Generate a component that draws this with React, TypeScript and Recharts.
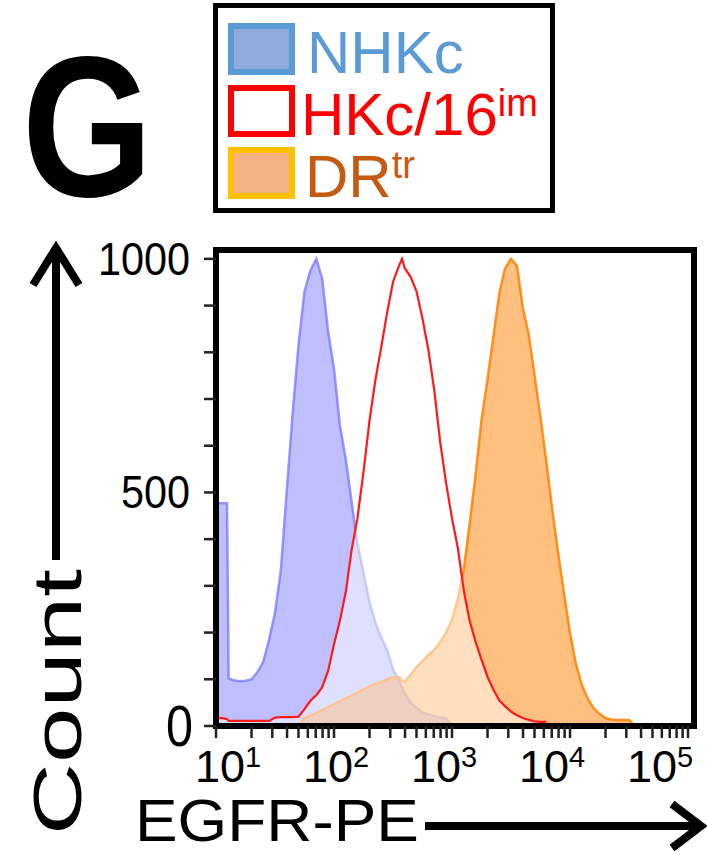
import { ComposedChart, Area, XAxis, YAxis, ReferenceArea } from 'recharts';

// EGFR-PE channel (log scale) and histogram counts
const egfrPe = [
  10, 11.2, 12.4, 12.8, 14.1, 15.8, 17.8, 20, 22.4, 25.1, 28.2, 31.6, 35.5, 39.8, 44.7, 50.1,
  56.2, 63.1, 70.8, 79.4, 89.1, 100, 112, 126, 141, 158, 178, 200, 224, 251, 282, 316,
  355, 377, 398, 447, 501, 562, 631, 708, 794, 891, 1000, 1122, 1259, 1413, 1585, 1778,
  1995, 2239, 2512, 2818, 3162, 3548, 3981, 4467, 5012, 5623, 6310, 7079, 7943, 8913, 10000, 11220,
  12589, 14125, 15849, 17783, 19953, 22387, 25119, 28184, 31623, 35481,
];

const nhkc = [
  477, 477, 477, 102, 98, 96, 97, 100, 115, 137, 185, 242, 335, 505, 672, 818,
  930, 975, 1000, 958, 845, 765, 645, 570, 480, 390, 327, 264, 222, 190, 163, 122,
  96, 83, 70, 50, 39, 29, 25, 21, 18, 17, 0,
];

const hkc16im = [
  17, 17, 15, 11, 11, 11, 11, 11, 11, 11, 11, 18, 19, 19, 19, 20,
  36, 54, 66, 83, 118, 175, 225, 288, 377, 445, 545, 654, 740, 810, 885, 950,
  985, 1000, 980, 961, 930, 872, 805, 718, 608, 520, 445, 380, 290, 224, 180, 142,
  106, 78, 55, 42, 31, 23, 17, 13, 10, 9, 9,
];

const drtr = [
  null, null, null, null, null, null, null, null, null, null, null, null, null, null, null, 0,
  17, 22, 28, 34, 41, 47, 53, 60, 65, 72, 79, 85, 90, 94, 100, 104,
  105, 97, 95, 110, 126, 139, 152, 163, 180, 200, 228, 272, 335, 434, 538, 655,
  740, 833, 925, 980, 1000, 985, 896, 838, 750, 660, 565, 462, 370, 282, 199, 133,
  88, 59, 38, 26, 17, 14, 13, 13, 13, 0,
];

const decades = [10, 100, 1000, 10000, 100000];
const minorSteps = [1, 2, 3, 4, 5, 6, 7, 8, 9];
const yTicks = [0, 100, 200, 300, 400, 500, 600, 700, 800, 900, 1000];
const yLabels = [0, 500, 1000];

const legendItems = [
  { name: 'NHKc', sup: '', text: '#5b9bd5', fill: '#8faadc', stroke: '#5b9bd5' },
  { name: 'HKc/16', sup: 'im', text: '#ff0000', fill: '#ffffff', stroke: '#ff0000' },
  { name: 'DR', sup: 'tr', text: '#c55a11', fill: '#f4b183', stroke: '#ffc000' },
];

const data = egfrPe.map((x, i) => ({
  x,
  nhkc: nhkc[i] ?? null,
  hkc: hkc16im[i] ?? null,
  drtr: drtr[i] ?? null,
}));

const xTicks = decades.flatMap((d) => (d === 100000 ? [d] : minorSteps.map((m) => m * d)));

const FONT = '"Liberation Sans", Arial, sans-serif';
const X_MIN = 10;
const X_MAX = 112400;
const Y_MAX = 1019;

function XTick(props: any) {
  const { x, y, payload } = props;
  const v = payload.value;
  const k = decades.indexOf(v);
  if (k < 0) return null;
  return (
    <text x={x + 12 - 10 * k} y={y + 42} textAnchor="middle" fontFamily={FONT} fontSize={45} fill="#000">
      10
      <tspan dy={-15} fontSize={29}>
        {k + 1}
      </tspan>
    </text>
  );
}

function YTick(props: any) {
  const { x, y, payload } = props;
  const v = payload.value;
  if (!yLabels.includes(v)) return null;
  const label = String(v);
  const big = v === 0;
  return (
    <text
      x={x - 12 + (big ? 3 : 0)}
      y={y + (big ? 20 : 16)}
      textAnchor="end"
      fontFamily={FONT}
      fontSize={big ? 58 : 46}
      textLength={big ? 27 : label.length * 23}
      lengthAdjust="spacingAndGlyphs"
      fill="#000"
    >
      {label}
    </text>
  );
}

function Overlay() {
  const rowTops = [26, 88, 150];
  return (
    <svg
      width={707}
      height={855}
      style={{ position: 'absolute', left: 0, top: 0, pointerEvents: 'none' }}
    >
      <text
        transform="translate(22, 196) scale(0.84, 1)"
        x={0}
        y={0}
        fontFamily={FONT}
        fontWeight="bold"
        fontSize={200}
        fill="#000"
      >
        G
      </text>

      <rect x={215.5} y={5.5} width={337} height={205} fill="#fff" stroke="#000" strokeWidth={5} />
      {legendItems.map((item, i) => {
        const top = rowTops[i];
        return (
          <g key={item.name}>
            <rect x={231} y={top} width={61} height={46} fill={item.fill} stroke={item.stroke} strokeWidth={6} />
            <text x={i === 0 ? 307 : i === 1 ? 301 : 305} y={top + 47} fontFamily={FONT} fontSize={60} fill={item.text}>
              {item.name}
              {item.sup ? (
                <tspan dy={-19} fontSize={38}>
                  {item.sup}
                </tspan>
              ) : null}
            </text>
          </g>
        );
      })}

      {/* y title with arrow */}
      <text
        transform="translate(81, 835) rotate(-90)"
        x={0}
        y={0}
        fontFamily={FONT}
        fontSize={68}
        textLength={266}
        lengthAdjust="spacingAndGlyphs"
        fill="#000"
      >
        Count
      </text>
      <line x1={56} y1={560} x2={56} y2={250} stroke="#000" strokeWidth={8} />
      <polyline points="33,285 56,248 79,285" fill="none" stroke="#000" strokeWidth={8} />

      {/* x title with arrow */}
      <text x={135} y={841} fontFamily={FONT} fontSize={60} textLength={284} lengthAdjust="spacingAndGlyphs" fill="#000">
        EGFR-PE
      </text>
      <line x1={425} y1={826} x2={698} y2={826} stroke="#000" strokeWidth={8} />
      <polyline points="672,804 701,826 672,848" fill="none" stroke="#000" strokeWidth={8} />
    </svg>
  );
}

export default function App() {
  return (
    <div style={{ position: 'absolute', left: 0, top: 0, width: 707, height: 855, background: '#fff' }}>
      <ComposedChart
        width={707}
        height={855}
        data={data}
        margin={{ top: 250, right: 13, bottom: 69, left: 116 }}
      >
        <XAxis
          dataKey="x"
          type="number"
          scale="log"
          domain={[X_MIN, X_MAX]}
          allowDataOverflow
          ticks={xTicks}
          interval={0}
          height={60}
          axisLine={false}
          tickSize={12}
          tickLine={{ stroke: '#222', strokeWidth: 2.5 }}
          tick={<XTick />}
        />
        <YAxis
          type="number"
          domain={[0, Y_MAX]}
          allowDataOverflow
          ticks={yTicks}
          interval={0}
          width={100}
          axisLine={false}
          tickSize={12}
          tickLine={{ stroke: '#222', strokeWidth: 2.5 }}
          tick={<YTick />}
        />
        <Area
          dataKey="nhkc"
          type="linear"
          fill="#8080ff"
          fillOpacity={0.5}
          stroke="#6f6fff"
          strokeOpacity={0.7}
          strokeWidth={2.5}
          dot={false}
          activeDot={false}
          isAnimationActive={false}
        />
        <Area
          dataKey="drtr"
          type="linear"
          fill="#ff8000"
          fillOpacity={0.5}
          stroke="#ff8000"
          strokeOpacity={0.85}
          strokeWidth={2.5}
          dot={false}
          activeDot={false}
          isAnimationActive={false}
        />
        <Area
          dataKey="hkc"
          type="linear"
          fill="#ffffff"
          fillOpacity={0.5}
          stroke="#ff1a1a"
          strokeWidth={2.2}
          dot={false}
          activeDot={false}
          isAnimationActive={false}
        />
        <ReferenceArea
          x1={X_MIN}
          x2={X_MAX}
          y1={0}
          y2={Y_MAX}
          fill="none"
          stroke="#000"
          strokeWidth={6}
          ifOverflow="visible"
        />
      </ComposedChart>
      <Overlay />
    </div>
  );
}
